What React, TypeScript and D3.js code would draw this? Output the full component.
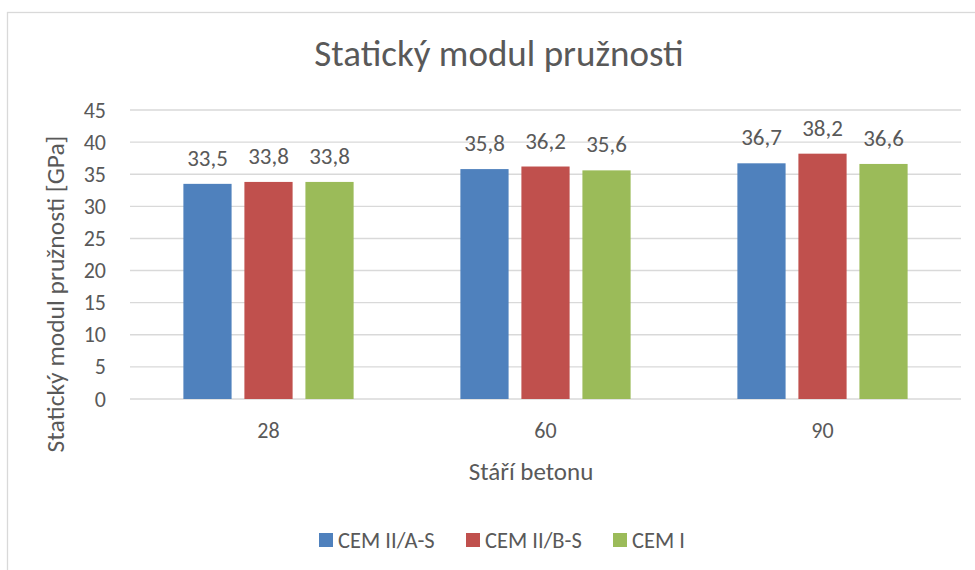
import React from 'react'
import * as d3 from 'd3'

const CATEGORIES = ['28', '60', '90']
const SERIES = ['CEM II/A-S', 'CEM II/B-S', 'CEM I']
const VALUES_A = [33.5, 35.8, 36.7]
const VALUES_B = [33.8, 36.2, 38.2]
const VALUES_C = [33.8, 35.6, 36.6]
const Y_TICKS = [0, 5, 10, 15, 20, 25, 30, 35, 40, 45]
const COLORS = ['#4F81BD', '#C0504D', '#9BBB59']

const W = 975
const H = 570
const PLOT = { left: 130, right: 961, top: 110, bottom: 399 }
const FONT = 'Carlito, Calibri, Lato, sans-serif'
const TEXT = '#595959'

const fmt = (v: number) => v.toFixed(1).replace('.', ',')

export default function App() {
  const seriesVals = [VALUES_A, VALUES_B, VALUES_C]

  const y = d3.scaleLinear().domain([0, 45]).range([PLOT.bottom, PLOT.top])
  const x0 = d3.scaleBand().domain(CATEGORIES).range([PLOT.left, PLOT.right]).padding(0)
  const x1 = d3.scaleBand().domain(SERIES).range([0, x0.bandwidth()])
    .paddingInner(0.21).paddingOuter(0.875)

  return (
    <svg width={W} height={H} style={{ position: 'absolute', left: 0, top: 0, fontFamily: FONT }}>
      <rect x={0} y={0} width={W} height={H} fill='#fff' />
      {/* chart frame, cut off by the picture edge */}
      <rect x={7.5} y={12.5} width={1100} height={700} fill='none' stroke='#d9d9d9' strokeWidth={1.3} />

      <text x={499} y={66} textAnchor='middle' fontSize={37} fill={TEXT}>Statický modul pružnosti</text>

      {/* gridlines + y ticks */}
      {Y_TICKS.map(t => (
        <g key={t}>
          <line x1={PLOT.left} x2={PLOT.right} y1={y(t)} y2={y(t)} stroke='#d9d9d9' strokeWidth={1.4} />
          <text x={106} y={y(t) + 7.5} textAnchor='end' fontSize={22} fill={TEXT}>{t}</text>
        </g>
      ))}

      {/* bars */}
      {CATEGORIES.map((c, ci) => (
        <g key={c} transform={`translate(${x0(c)},0)`}>
          {SERIES.map((s, si) => {
            const v = seriesVals[si][ci]
            const bx = x1(s) as number
            return (
              <g key={s}>
                <rect x={bx} y={y(v)} width={x1.bandwidth()} height={y(0) - y(v)} fill={COLORS[si]} />
                <text x={bx + x1.bandwidth() / 2} y={y(v) - 18} textAnchor='middle' fontSize={23} fill={TEXT}>{fmt(v)}</text>
              </g>
            )
          })}
          <text x={x0.bandwidth() / 2} y={438} textAnchor='middle' fontSize={22} fill={TEXT}>{c}</text>
        </g>
      ))}

      <text x={531} y={480} textAnchor='middle' fontSize={25} fill={TEXT}>Stáří betonu</text>
      <text transform={`translate(64,294) rotate(-90)`} textAnchor='middle' fontSize={25.5} fill={TEXT}>
        Statický modul pružnosti [GPa]
      </text>

      {/* legend */}
      {SERIES.map((s, i) => {
        const lx = [319, 466, 613][i]
        return (
          <g key={s}>
            <rect x={lx} y={533} width={14} height={14} fill={COLORS[i]} />
            <text x={lx + 19} y={548} fontSize={22.5} fill={TEXT}>{s}</text>
          </g>
        )
      })}
    </svg>
  )
}
